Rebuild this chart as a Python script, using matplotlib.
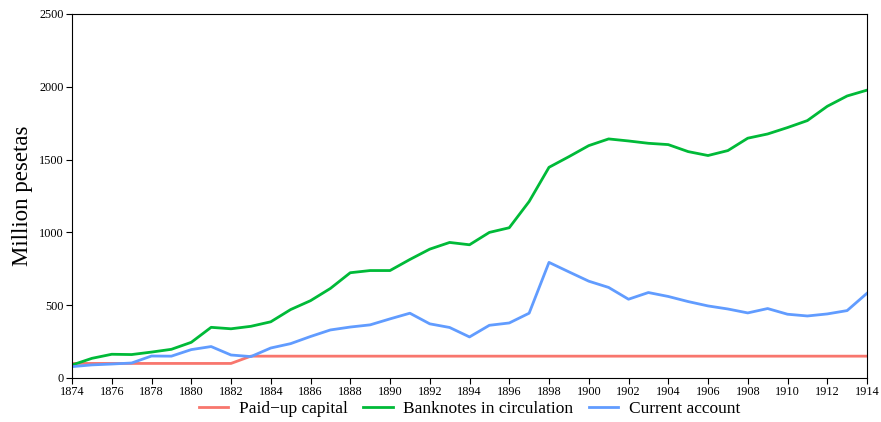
import numpy as np
import matplotlib
matplotlib.use('Agg')
import matplotlib.pyplot as plt

years = list(range(1874, 1915))

paid_up = [100] * 9 + [150] * 32

banknotes = [89, 135, 163, 161, 178, 197, 245, 348, 338, 355,
             386, 470, 531, 615, 723, 738, 738, 814, 885, 931,
             915, 1000, 1032, 1212, 1447, 1520, 1596, 1642, 1628, 1612,
             1603, 1555, 1528, 1562, 1647, 1676, 1720, 1768, 1866, 1937,
             1977]

current = [78, 90, 96, 103, 151, 150, 195, 216, 158, 147,
           206, 236, 285, 330, 350, 365, 406, 445, 372, 347,
           282, 362, 378, 445, 794, 729, 665, 622, 541, 587,
           560, 525, 495, 474, 447, 477, 438, 426, 440, 463,
           582]

labels = ['Paid\u2212up capital', 'Banknotes in circulation', 'Current account']
colors = ['#F8766D', '#00BA38', '#619CFF']


def main():
    plt.rcParams['font.family'] = ['Liberation Serif', 'DejaVu Serif']
    fig = plt.figure(figsize=(8.81, 4.22), dpi=100)
    ax = fig.add_axes([72 / 881, 1 - 378 / 422, 795 / 881, 364 / 422])

    for series, label, color in zip([paid_up, banknotes, current], labels, colors):
        ax.plot(years, series, color=color, lw=2, label=label)

    ax.set_xlim(1874, 1914)
    ax.set_ylim(0, 2500)
    ax.set_xticks(range(1874, 1915, 2))
    ax.set_yticks(range(0, 2501, 500))
    ax.tick_params(labelsize=8.8, length=4, direction='out', pad=2)
    ax.set_ylabel('Million pesetas', fontsize=16.5, labelpad=4)

    # legend sits just under the tick labels
    ax.legend(loc='center', bbox_to_anchor=(0.5, -31 / 364), ncol=3,
              frameon=False, fontsize=12.5, handlelength=1.7,
              columnspacing=0.9, handletextpad=0.6, borderpad=0)

    fig.savefig('out.png', dpi=100)


if __name__ == '__main__':
    main()
